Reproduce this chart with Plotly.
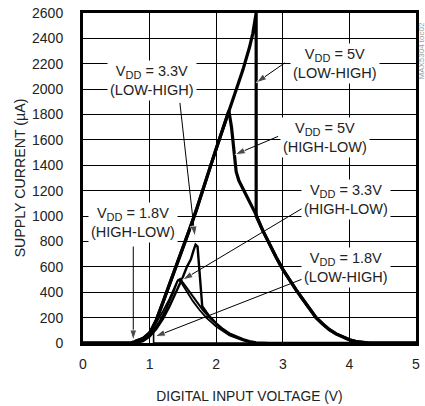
import plotly.graph_objects as go

FONT = "Liberation Sans, Arial, sans-serif"
TXT = "#222"

# Supply current (uA) vs digital input voltage (V)
v5_lh_x = [0.0, 0.72, 0.8, 0.9, 1.0, 1.1, 1.2, 1.3, 1.4, 1.5, 1.6, 1.7, 1.8, 1.9, 2.0, 2.1, 2.2,
           2.3, 2.4, 2.5, 2.55, 2.6, 2.6, 2.6, 2.7, 2.8, 2.9, 3.0, 3.1, 3.2, 3.3, 3.4, 3.5, 3.6,
           3.7, 3.8, 3.9, 4.0, 4.1, 4.2, 4.3, 5.0]
v5_lh_y = [0, 0, 15, 35, 75, 180, 320, 460, 605, 750, 895, 1045, 1200, 1370, 1530, 1685, 1840,
           1995, 2150, 2330, 2440, 2600, 1400, 1000, 885, 775, 675, 580, 495, 418, 345, 275, 200,
           150, 105, 72, 45, 25, 12, 5, 0, 0]

v5_hl_x = [0.0, 0.72, 0.8, 0.9, 1.0, 1.1, 1.2, 1.3, 1.4, 1.5, 1.6, 1.7, 1.8, 1.9, 2.0, 2.1, 2.19,
           2.23, 2.27, 2.3, 2.34, 2.4, 2.5, 2.6, 2.7, 2.8, 2.9, 3.0, 3.1, 3.2, 3.3, 3.4, 3.5, 3.6,
           3.7, 3.8, 3.9, 4.0, 4.1, 4.2, 4.3, 5.0]
v5_hl_y = [0, 0, 15, 35, 75, 180, 320, 460, 605, 750, 895, 1045, 1200, 1370, 1530, 1685, 1830,
           1700, 1480, 1350, 1280, 1220, 1120, 1010, 885, 775, 675, 580, 495, 418, 345, 275, 200,
           150, 105, 72, 45, 25, 12, 5, 0, 0]

v33_lh_x = [0.0, 0.8, 0.9, 1.0, 1.1, 1.2, 1.3, 1.4, 1.5, 1.56, 1.62, 1.66, 1.69, 1.72, 1.75,
            1.79, 1.85, 1.9, 2.0, 2.1, 2.2, 2.3, 2.4, 2.5, 2.6, 2.8, 5.0]
v33_lh_y = [0, 0, 15, 50, 110, 190, 290, 400, 520, 600, 660, 730, 775, 760, 520,
            290, 245, 210, 155, 110, 75, 50, 30, 15, 5, 0, 0]

v33_hl_x = [0.0, 0.75, 0.85, 0.95, 1.05, 1.15, 1.25, 1.35, 1.42, 1.46, 1.5, 1.6, 1.7, 1.8, 1.9,
            2.0, 2.1, 2.2, 2.3, 2.4, 2.5, 2.6, 5.0]
v33_hl_y = [0, 0, 15, 45, 95, 170, 270, 390, 490, 505, 475, 400, 330, 260, 200,
            150, 105, 70, 45, 25, 10, 0, 0]

v18_hl_x = [0.0, 0.72, 0.8, 0.9, 1.0, 1.1, 1.2, 1.3, 1.4, 1.43, 1.47, 1.55, 1.65, 1.75, 1.85,
            2.0, 2.2, 2.4, 2.5, 2.6, 5.0]
v18_hl_y = [0, 0, 10, 40, 90, 160, 250, 350, 470, 497, 480, 410, 330, 260, 200,
            130, 60, 20, 5, 0, 0]

v18_lh_x = [0.0, 0.8, 0.9, 1.0, 1.06, 1.06, 5.0]
v18_lh_y = [0, 0, 20, 55, 100, 0, 0]

series = [
    (v5_lh_x, v5_lh_y, 3.2),
    (v5_hl_x, v5_hl_y, 3.2),
    (v33_lh_x, v33_lh_y, 2.4),
    (v33_hl_x, v33_hl_y, 2.0),
    (v18_hl_x, v18_hl_y, 1.8),
    (v18_lh_x, v18_lh_y, 1.6),
]

fig = go.Figure()
for xs, ys, w in series:
    fig.add_trace(go.Scatter(x=xs, y=ys, mode="lines", line=dict(color="black", width=w),
                             hoverinfo="skip", showlegend=False))

SUB_DD = "<span style='font-size:11px;baseline-shift:-3px'>DD</span>"

# label text, label centre (x, y), arrow tail (x, y), arrow head (x, y)
labels = [
    ("V" + SUB_DD + " = 3.3V<br>(LOW-HIGH)", 1.03, 2068, 1.455, 1892, 1.68, 839),
    ("V" + SUB_DD + " = 5V<br>(LOW-HIGH)", 3.79, 2202, 3.03, 2207, 2.60, 2050),
    ("V" + SUB_DD + " = 5V<br>(HIGH-LOW)", 3.63, 1622, 2.93, 1628, 2.28, 1484),
    ("V" + SUB_DD + " = 3.3V<br>(HIGH-LOW)", 3.95, 1129, 3.30, 1063, 1.495, 497),
    ("V" + SUB_DD + " = 1.8V<br>(LOW-HIGH)", 3.95, 596, 3.33, 511, 1.08, 50),
    ("V" + SUB_DD + " = 1.8V<br>(HIGH-LOW)", 0.755, 951, 0.755, 760, 0.755, 20),
]

for text, lx, ly, tx, ty, hx, hy in labels:
    # pointer: thin shaft with a narrow filled head at the target
    fig.add_trace(go.Scatter(x=[tx, hx], y=[ty, hy], mode="lines+markers",
                             line=dict(color="black", width=1),
                             marker=dict(symbol="arrow", size=[0, 11], angleref="previous",
                                         color="black"),
                             hoverinfo="skip", showlegend=False))
    fig.add_annotation(x=lx, y=ly, xref="x", yref="y", text=text, showarrow=False,
                       bgcolor="white", borderpad=2,
                       font=dict(family=FONT, size=14.5, color=TXT))

fig.add_annotation(x=1.0, y=1.0, xref="paper", yref="paper", xanchor="center", yanchor="top",
                   xshift=5, yshift=-9, borderpad=0, text="MAX5304 toc02", textangle=-90,
                   showarrow=False, font=dict(family=FONT, size=8, color="#999"))

fig.update_layout(
    width=425, height=406,
    margin=dict(l=83, r=9, t=13, b=63),
    paper_bgcolor="white", plot_bgcolor="white",
    font=dict(family=FONT, size=14, color=TXT),
    showlegend=False,
)
fig.update_xaxes(range=[0, 5], dtick=1, showgrid=True, gridcolor="black", gridwidth=1,
                 showline=True, linecolor="black", linewidth=3, mirror=True,
                 ticks="outside", ticklen=6, tickcolor="rgba(0,0,0,0)", zeroline=False,
                 tickfont=dict(size=14), automargin=False,
                 title=dict(text="DIGITAL INPUT VOLTAGE (V)", standoff=21,
                            font=dict(size=13.8)))
fig.update_yaxes(range=[0, 2600], dtick=200, showgrid=True, gridcolor="black", gridwidth=1,
                 showline=True, linecolor="black", linewidth=3, mirror=True,
                 ticks="outside", ticklen=14, tickcolor="rgba(0,0,0,0)", zeroline=False,
                 tickfont=dict(size=14), automargin=False,
                 title=dict(text="SUPPLY CURRENT (µA)", standoff=4,
                            font=dict(size=14.2)))

fig.write_html("out.html")
